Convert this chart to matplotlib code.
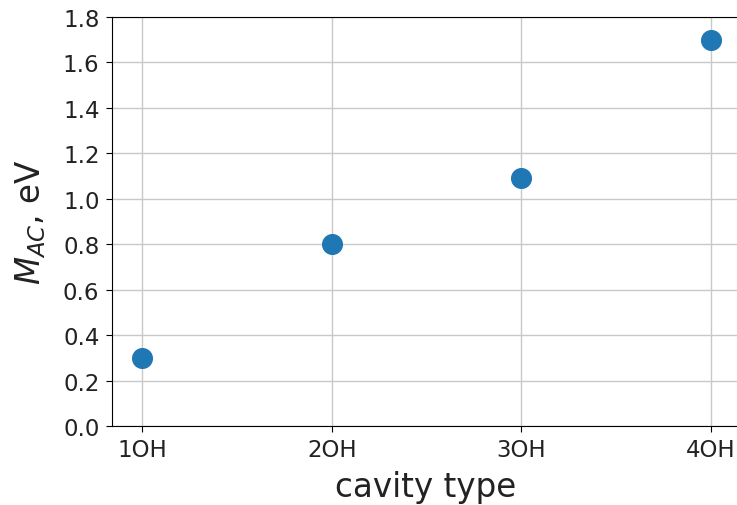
import matplotlib
matplotlib.use("Agg")
import matplotlib.pyplot as plt

# cavity types and M_AC values (eV)
cavities = ["1OH", "2OH", "3OH", "4OH"]
m_ac = [0.30, 0.80, 1.09, 1.70]
y_ticks = [0.0, 0.2, 0.4, 0.6, 0.8, 1.0, 1.2, 1.4, 1.6, 1.8]

fig = plt.figure(figsize=(7.37, 5.06), dpi=100)
ax = fig.add_axes([112 / 737, 79 / 506, 627 / 737, 409 / 506])

x = list(range(len(cavities)))
ax.scatter(x, m_ac, s=200, color="tab:blue", zorder=3)

ax.set_xticks(x)
ax.set_xticklabels(cavities)
ax.set_xlim(-0.16, 3.15)
ax.set_ylim(0, 1.8)
ax.set_yticks(y_ticks)
ax.set_yticklabels([f"{v:.1f}" for v in y_ticks])
ax.tick_params(labelsize=16.5, labelcolor="#222222", length=4.5, pad=4.5)
ax.grid(True, color="#c8c8c8", linewidth=1)
ax.set_axisbelow(True)

ax.set_xlabel("cavity type", fontsize=23.5, color="#222222", labelpad=6)
ax.set_ylabel("$M_{AC}$, eV", fontsize=23.5, color="#222222", labelpad=11)

fig.savefig("out.png", dpi=100)
